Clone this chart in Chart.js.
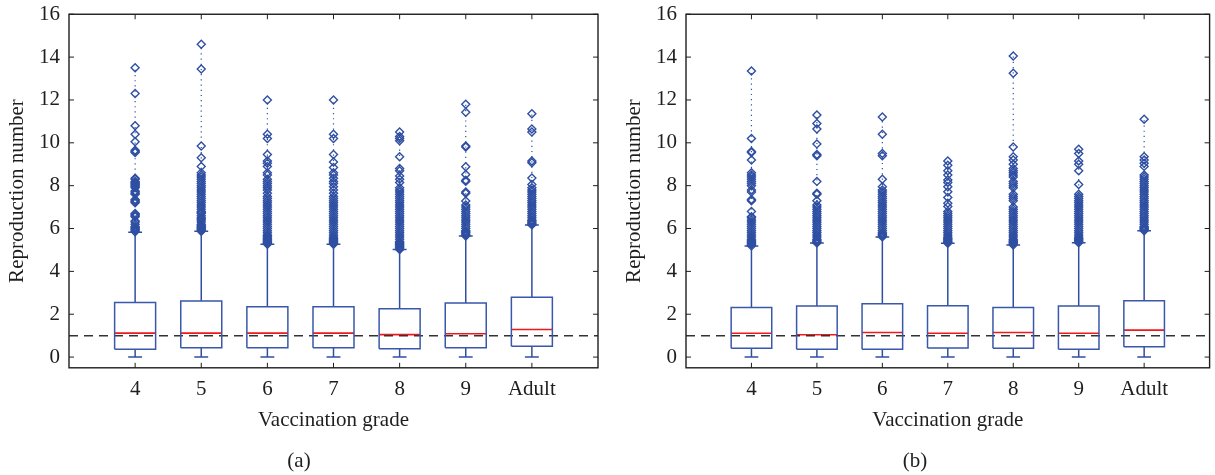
<!DOCTYPE html>
<html>
<head>
<meta charset="utf-8">
<script src="https://cdn.jsdelivr.net/npm/chart.js@4/dist/chart.umd.min.js"></script>
<style>
  html, body { margin: 0; padding: 0; background: #fff; }
  body { width: 1215px; height: 475px; position: relative; overflow: hidden; }
  .panel { position: absolute; top: 0; height: 475px; }
  #panel-a { left: 0; width: 607px; }
  #panel-b { left: 617px; width: 598px; }
</style>
</head>
<body>
<div class="panel" id="panel-a"><canvas id="chart-a"></canvas></div>
<div class="panel" id="panel-b"><canvas id="chart-b"></canvas></div>
<script>
// categories and axis ticks
const gradeLabels = ['4', '5', '6', '7', '8', '9', 'Adult'];
const yTicks = [0, 2, 4, 6, 8, 10, 12, 14, 16];
const threshold = 1;

// panel (a): box statistics
const lowA = [0, 0, 0, 0, 0, 0, 0];
const q1A = [0.37, 0.44, 0.44, 0.44, 0.39, 0.44, 0.50];
const medA = [1.12, 1.12, 1.12, 1.12, 1.05, 1.09, 1.29];
const q3A = [2.55, 2.62, 2.35, 2.35, 2.26, 2.52, 2.79];
const highA = [5.83, 5.87, 5.27, 5.27, 5.02, 5.65, 6.17];
const outA4 = [5.85,5.9,5.95,6.0,6.05,6.1,6.2,6.3,6.35,6.55,6.6,6.65,6.7,7.2,7.25,7.3,7.35,7.6,7.65,7.7,7.75,7.9,7.95,8.0,8.05,8.1,8.15,8.2,8.3,8.35,9.55,9.6,9.65,10.05,10.4,10.8,12.3,13.5];
const outA5 = [5.87,5.9,5.95,6.0,6.05,6.1,6.15,6.2,6.3,6.4,6.45,6.5,6.6,6.7,6.75,6.8,6.9,7.0,7.1,7.2,7.3,7.4,7.5,7.6,7.7,7.8,7.9,8.0,8.1,8.2,8.3,8.4,8.5,8.6,8.9,9.3,9.85,13.45,14.6];
const outA6 = [5.27,5.3,5.35,5.4,5.45,5.5,5.55,5.6,5.65,5.7,5.8,5.9,6.0,6.1,6.2,6.3,6.4,6.5,6.6,6.7,6.8,6.9,7.0,7.1,7.2,7.3,7.4,7.5,7.65,7.8,7.9,8.0,8.1,8.2,8.3,8.5,8.6,8.9,9.05,9.15,9.45,10.2,10.4,12.0];
const outA7 = [5.27,5.3,5.35,5.4,5.45,5.5,5.55,5.6,5.7,5.8,5.9,6.0,6.1,6.2,6.3,6.4,6.5,6.6,6.7,6.8,6.9,7.0,7.1,7.2,7.3,7.4,7.5,7.65,7.8,7.95,8.1,8.2,8.35,8.5,8.6,8.85,9.1,9.45,10.2,10.4,12.0];
const outA8 = [5.02,5.05,5.1,5.15,5.2,5.25,5.3,5.35,5.4,5.5,5.6,5.7,5.8,5.9,6.0,6.1,6.2,6.3,6.4,6.5,6.6,6.7,6.8,6.9,7.0,7.1,7.2,7.3,7.4,7.5,7.6,7.7,7.8,7.9,8.15,8.3,8.45,8.7,8.8,9.35,10.1,10.2,10.3,10.5];
const outA9 = [5.65,5.7,5.75,5.8,5.85,5.9,6.0,6.1,6.2,6.3,6.4,6.5,6.6,6.7,6.8,6.9,7.0,7.1,7.28,7.65,7.7,8.2,8.25,8.52,8.88,9.8,9.85,11.43,11.8];
const outAAdult = [6.17,6.2,6.25,6.3,6.35,6.4,6.5,6.6,6.7,6.8,6.9,7.0,7.1,7.2,7.3,7.4,7.5,7.6,7.7,7.8,7.9,8.05,8.36,9.07,9.15,10.5,10.65,11.36];

// panel (b)
const lowB = [0, 0, 0, 0, 0, 0, 0];
const q1B = [0.41, 0.36, 0.36, 0.42, 0.41, 0.36, 0.48];
const medB = [1.11, 1.04, 1.15, 1.11, 1.15, 1.11, 1.26];
const q3B = [2.32, 2.38, 2.49, 2.40, 2.32, 2.38, 2.63];
const highB = [5.19, 5.33, 5.61, 5.31, 5.23, 5.34, 5.90];
const outB4 = [5.19,5.25,5.3,5.35,5.4,5.45,5.5,5.6,5.7,5.8,5.9,6.0,6.1,6.2,6.3,6.4,6.5,6.55,6.8,7.3,7.35,7.7,7.8,8.0,8.1,8.2,8.3,8.4,8.5,8.6,9.2,9.55,9.6,10.2,13.35];
const outB5 = [5.33,5.35,5.4,5.45,5.5,5.6,5.7,5.8,5.9,6.0,6.1,6.2,6.3,6.4,6.5,6.6,6.7,6.8,6.9,7.0,7.1,7.3,7.6,7.65,8.2,9.4,9.45,9.95,10.65,10.9,11.3];
const outB6 = [5.61,5.65,5.7,5.75,5.8,5.9,6.0,6.1,6.2,6.3,6.4,6.5,6.6,6.7,6.8,6.9,7.0,7.1,7.2,7.3,7.4,7.5,7.6,7.7,7.8,7.95,8.3,9.4,9.5,10.4,11.2];
const outB7 = [5.31,5.35,5.4,5.45,5.5,5.55,5.6,5.7,5.8,5.9,6.0,6.1,6.2,6.3,6.4,6.5,6.6,6.7,6.8,7.03,7.18,7.45,7.72,7.95,8.15,8.27,8.5,8.7,8.95,9.15];
const outB8 = [5.23,5.3,5.35,5.4,5.45,5.5,5.6,5.7,5.8,5.9,6.0,6.1,6.2,6.3,6.4,6.5,6.6,6.7,6.8,6.9,7.0,7.3,7.4,7.5,7.6,7.9,8.0,8.1,8.2,8.4,8.5,8.6,8.7,8.8,9.0,9.2,9.35,9.8,13.25,14.05];
const outB9 = [5.34,5.4,5.45,5.5,5.55,5.6,5.7,5.8,5.9,6.0,6.1,6.2,6.3,6.4,6.5,6.6,6.7,6.8,6.9,7.0,7.1,7.2,7.3,7.4,7.5,7.6,8.05,8.7,9.0,9.15,9.5,9.7];
const outBAdult = [5.9,5.95,6.0,6.05,6.1,6.2,6.3,6.4,6.5,6.6,6.7,6.8,6.9,7.0,7.1,7.2,7.3,7.4,7.5,7.6,7.7,7.8,7.9,8.0,8.1,8.2,8.3,8.4,8.5,8.9,9.05,9.2,9.35,11.1];

const BLUE = '#2f4fa2';
const BOX_BLUE = '#3957ab';
const RED = '#f0181c';
const INK = '#1e1e1e';
const FONT = "'Liberation Serif', 'DejaVu Serif', serif";
const HALF_BOX = 0.31;
const HALF_CAP = 0.105;

const gap = x => ({x: x, y: null});

/*
** builds the scatter/line datasets of one box plot panel
*/
function boxDatasets(low, q1, med, q3, high, outliers){
  let boxes = [], whiskers = [], medians = [], tails = [], points = [];
  gradeLabels.forEach((g, i) => {
    const x = i + 1;
    boxes.push({x: x - HALF_BOX, y: q1[i]}, {x: x + HALF_BOX, y: q1[i]},
      {x: x + HALF_BOX, y: q3[i]}, {x: x - HALF_BOX, y: q3[i]},
      {x: x - HALF_BOX, y: q1[i]}, gap(x));
    whiskers.push({x: x, y: q3[i]}, {x: x, y: high[i]}, gap(x),
      {x: x - HALF_CAP, y: high[i]}, {x: x + HALF_CAP, y: high[i]}, gap(x),
      {x: x, y: q1[i]}, {x: x, y: low[i]}, gap(x),
      {x: x - HALF_CAP, y: low[i]}, {x: x + HALF_CAP, y: low[i]}, gap(x));
    medians.push({x: x - HALF_BOX, y: med[i]}, {x: x + HALF_BOX, y: med[i]}, gap(x));
    tails.push({x: x, y: high[i]}, {x: x, y: Math.max(...outliers[i])}, gap(x));
    outliers[i].forEach(v => points.push({x: x, y: v}));
  });
  const lineDs = (data, color, width, dash) => ({
    data: data, showLine: true, borderColor: color, borderWidth: width,
    borderDash: dash || [], pointRadius: 0, fill: false, spanGaps: false
  });
  return [
    lineDs(tails, BLUE, 1.2, [1.2, 4]),
    lineDs(boxes, BOX_BLUE, 1.5),
    lineDs(whiskers, BLUE, 1.5),
    {
      data: points, showLine: false, pointStyle: 'rectRot', pointRadius: 4,
      borderColor: BLUE, backgroundColor: 'rgba(0,0,0,0)', pointBorderWidth: 1.4
    },
    lineDs([{x: 0, y: threshold}, {x: 8, y: threshold}], '#333', 1.5, [9, 6]),
    lineDs(medians, RED, 1.6)
  ];
}

/*
** frame of the plot with inward tick marks on every side
*/
const framePlugin = {
  id: 'frame',
  afterDraw(chart){
    const {ctx, chartArea: a, scales} = chart;
    ctx.save();
    ctx.strokeStyle = INK;
    ctx.lineWidth = 1.4;
    ctx.strokeRect(a.left, a.top, a.right - a.left, a.bottom - a.top);
    ctx.lineWidth = 1;
    ctx.beginPath();
    scales.x.ticks.forEach(t => {
      const px = scales.x.getPixelForValue(t.value);
      ctx.moveTo(px, a.bottom); ctx.lineTo(px, a.bottom - 5);
      ctx.moveTo(px, a.top); ctx.lineTo(px, a.top + 5);
    });
    scales.y.ticks.forEach(t => {
      const py = scales.y.getPixelForValue(t.value);
      ctx.moveTo(a.left, py); ctx.lineTo(a.left + 5, py);
      ctx.moveTo(a.right, py); ctx.lineTo(a.right - 5, py);
    });
    ctx.stroke();
    ctx.restore();
  }
};

function createPanel(id, caption, datasets, padTop, padRight){
  new Chart(document.getElementById(id), {
    type: 'scatter',
    data: {datasets: datasets},
    plugins: [framePlugin],
    options: {
      responsive: true,
      maintainAspectRatio: false,
      animation: false,
      events: [],
      layout: {padding: {left: 0, top: padTop, right: padRight, bottom: 0}},
      plugins: {
        legend: {display: false},
        tooltip: {enabled: false},
        title: {
          display: true, position: 'bottom', text: caption, color: INK,
          font: {family: FONT, size: 21, weight: 'normal'},
          padding: {top: 0, bottom: 1}
        }
      },
      scales: {
        x: {
          type: 'linear', min: 0, max: 8,
          afterBuildTicks: s => { s.ticks = gradeLabels.map((g, i) => ({value: i + 1})); },
          afterFit: s => { s.height = 81; },
          grid: {display: false, drawTicks: false, tickLength: 0},
          border: {display: false},
          ticks: {
            color: INK, padding: 9, maxRotation: 0, autoSkip: false,
            font: {family: FONT, size: 21},
            callback: v => gradeLabels[v - 1]
          },
          title: {
            display: true, text: 'Vaccination grade', color: INK,
            font: {family: FONT, size: 21},
            padding: {top: 0, bottom: 16}
          }
        },
        y: {
          min: -0.5, max: 16,
          afterBuildTicks: s => { s.ticks = yTicks.map(v => ({value: v})); },
          afterFit: s => { s.width = 69; },
          grid: {display: false, drawTicks: false, tickLength: 0},
          border: {display: false},
          ticks: {color: INK, padding: 9, font: {family: FONT, size: 21, lineHeight: 0.5}},
          title: {
            display: true, text: 'Reproduction number', color: INK,
            font: {family: FONT, size: 21},
            padding: {top: 5, bottom: 0}
          }
        }
      }
    }
  });
}

createPanel('chart-a', '(a)',
  boxDatasets(lowA, q1A, medA, q3A, highA, [outA4, outA5, outA6, outA7, outA8, outA9, outAAdult]), 13, 9);
createPanel('chart-b', '(b)',
  boxDatasets(lowB, q1B, medB, q3B, highB, [outB4, outB5, outB6, outB7, outB8, outB9, outBAdult]), 14, 2);
</script>
</body>
</html>
